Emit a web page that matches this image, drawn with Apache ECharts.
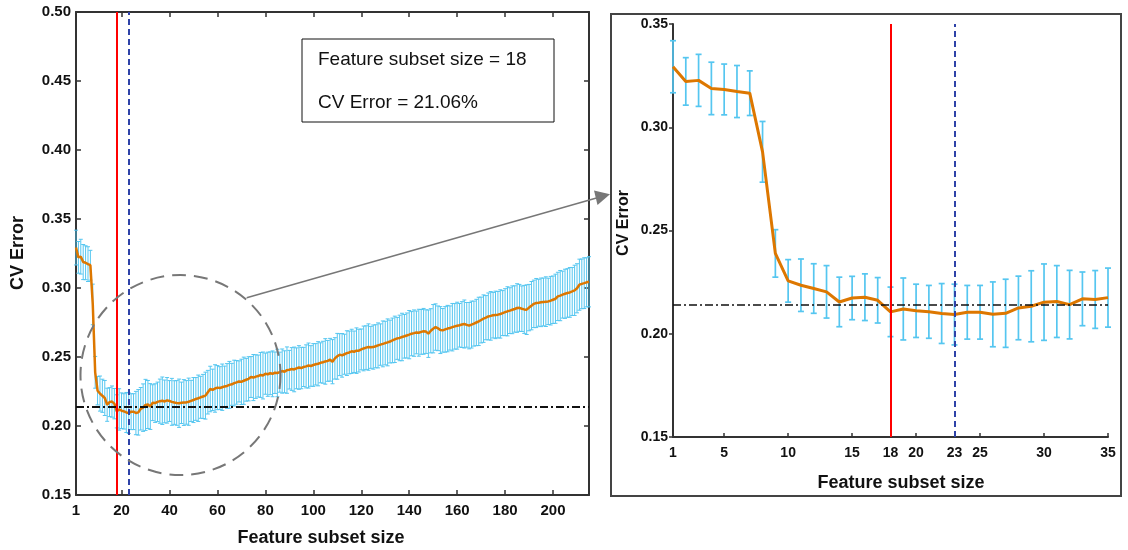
<!DOCTYPE html>
<html>
<head>
<meta charset="utf-8">
<script src="https://cdn.jsdelivr.net/npm/echarts@6/dist/echarts.min.js"></script>
<style>
html,body{margin:0;padding:0;background:#fff;}
#chart{width:1128px;height:550px;}
</style>
</head>
<body>
<div id="chart"></div>
<script>
// ---------------- DATA ----------------
const cvError = [
0.3293,0.3222,0.3227,0.3188,0.3183,0.3173,0.3165,0.2881,0.2389,0.2256,
0.2235,0.2219,0.2203,0.2154,0.2173,0.2177,0.2162,0.2106,0.2120,0.2111,
0.2106,0.2098,0.2093,0.2104,0.2104,0.2094,0.2099,0.2125,0.2133,0.2153,
0.2156,0.2141,0.2169,0.2166,0.2175,
0.2180,0.2183,0.2178,0.2186,0.2181,0.2175,0.2170,0.2167,0.2165,0.2168,
0.2170,0.2171,0.2176,0.2182,0.2188,0.2196,0.2201,0.2208,0.2214,0.2220,
0.2245,0.2268,0.2262,0.2272,0.2278,0.2275,0.2281,0.2287,0.2290,0.2298,
0.2302,0.2311,0.2316,0.2323,0.2320,0.2328,0.2335,0.2342,0.2355,0.2351,
0.2358,0.2362,0.2370,0.2366,0.2379,0.2375,0.2382,0.2378,0.2386,0.2384,
0.2390,0.2398,0.2393,0.2405,0.2408,0.2413,0.2410,0.2418,0.2424,0.2420,
0.2428,0.2432,0.2438,0.2435,0.2442,0.2447,0.2451,0.2458,0.2462,0.2468,
0.2472,0.2480,0.2466,0.2490,0.2505,0.2517,0.2512,0.2520,0.2528,0.2533,
0.2541,0.2538,0.2546,0.2546,0.2555,0.2562,0.2568,0.2572,0.2570,0.2572,
0.2578,0.2584,0.2590,0.2595,0.2601,0.2606,0.2612,0.2620,0.2628,0.2635,
0.2638,0.2645,0.2650,0.2656,0.2662,0.2669,0.2673,0.2678,0.2676,0.2682,
0.2686,0.2684,0.2669,0.2690,0.2705,0.2717,0.2708,0.2695,0.2693,0.2700,
0.2706,0.2710,0.2716,0.2722,0.2727,0.2730,0.2735,0.2739,0.2733,0.2727,
0.2735,0.2742,0.2750,0.2758,0.2768,0.2778,0.2785,0.2794,0.2798,0.2803,
0.2805,0.2807,0.2812,0.2818,0.2825,0.2831,0.2836,0.2842,0.2848,0.2855,
0.2856,0.2850,0.2845,0.2843,0.2858,0.2872,0.2885,0.2891,0.2893,0.2896,
0.2899,0.2901,0.2903,0.2908,0.2915,0.2922,0.2939,0.2945,0.2952,0.2958,
0.2964,0.2968,0.2975,0.2983,0.2998,0.3024,0.3030,0.3035,0.3041,0.3045
];
const cvStd = [
0.0126,0.0115,0.0126,0.0127,0.0123,0.0126,0.0108,0.0147,0.0115,0.0103,
0.0127,0.0120,0.0127,0.0120,0.0105,0.0113,0.0110,0.0120,0.0150,0.0129,
0.0128,0.0145,0.0147,0.0130,0.0130,0.0157,0.0165,0.0154,0.0172,0.0185,
0.0174,0.0166,0.0130,0.0140,0.0143,
0.0160,0.0172,0.0155,0.0165,0.0148,0.0170,0.0158,0.0162,0.0175,0.0150,
0.0166,0.0158,0.0171,0.0149,0.0163,0.0155,0.0168,0.0152,0.0160,0.0170,
0.0158,0.0165,0.0150,0.0172,0.0160,0.0155,0.0168,0.0147,0.0162,0.0170,
0.0152,0.0166,0.0158,0.0149,0.0164,0.0171,0.0155,0.0160,0.0148,0.0167,
0.0158,0.0152,0.0163,0.0170,0.0149,0.0160,0.0155,0.0166,0.0150,0.0172,
0.0145,0.0160,0.0152,0.0168,0.0140,0.0155,0.0162,0.0148,0.0158,0.0150,
0.0142,0.0156,0.0163,0.0147,0.0155,0.0150,0.0160,0.0145,0.0152,0.0165,
0.0148,0.0155,0.0160,0.0150,0.0166,0.0152,0.0158,0.0145,0.0162,0.0155,
0.0160,0.0150,0.0165,0.0155,0.0148,0.0162,0.0158,0.0168,0.0152,0.0160,
0.0156,0.0163,0.0150,0.0166,0.0158,0.0170,0.0155,0.0162,0.0168,0.0152,
0.0165,0.0172,0.0158,0.0163,0.0175,0.0160,0.0168,0.0155,0.0170,0.0162,
0.0166,0.0158,0.0172,0.0160,0.0175,0.0168,0.0162,0.0170,0.0158,0.0165,
0.0168,0.0160,0.0172,0.0165,0.0170,0.0158,0.0166,0.0174,0.0162,0.0168,
0.0170,0.0163,0.0168,0.0175,0.0166,0.0172,0.0160,0.0170,0.0176,0.0165,
0.0172,0.0168,0.0175,0.0163,0.0170,0.0178,0.0166,0.0173,0.0168,0.0176,
0.0170,0.0165,0.0174,0.0180,0.0168,0.0175,0.0172,0.0178,0.0170,0.0176,
0.0173,0.0180,0.0168,0.0176,0.0172,0.0178,0.0175,0.0182,0.0170,0.0178,
0.0176,0.0180,0.0174,0.0182,0.0178,0.0185,0.0180,0.0184,0.0178,0.0182
];
const xTicksFull = [1, 20, 40, 60, 80, 100, 120, 140, 160, 180, 200];
const xTicksZoom = [1, 5, 10, 15, 18, 20, 23, 25, 30, 35];
const zoomCount = 35;
const bestSize = 18;
const altSize = 23;
const thresholdError = 0.214;
const annotationLines = ['Feature subset size = 18', 'CV Error = 21.06%'];
const xName = 'Feature subset size';
const yName = 'CV Error';

// ---------------- BUILD ----------------
const FONT = '"Liberation Sans", Arial, Helvetica, sans-serif';
const ORANGE = '#DD7700';
const BAR = '#55C6F0';
const AXIS = '#333';

const fullPts = cvError.map((v, i) => [i + 1, v, cvStd[i]]);
const zoomPts = fullPts.slice(0, zoomCount);

function errRender(lw, cap) {
  return function (params, api) {
    const x = api.value(0), m = api.value(1), s = api.value(2);
    const t = api.coord([x, m + s]);
    const b = api.coord([x, m - s]);
    const st = { stroke: BAR, lineWidth: lw };
    return {
      type: 'group',
      children: [
        { type: 'line', shape: { x1: t[0], y1: t[1], x2: b[0], y2: b[1] }, style: st },
        { type: 'line', shape: { x1: t[0] - cap, y1: t[1], x2: t[0] + cap, y2: t[1] }, style: st },
        { type: 'line', shape: { x1: b[0] - cap, y1: b[1], x2: b[0] + cap, y2: b[1] }, style: st }
      ]
    };
  };
}

function markLines(dashW) {
  return {
    symbol: 'none', silent: true, label: { show: false }, animation: false, precision: 6,
    data: [
      { xAxis: bestSize, lineStyle: { color: '#FF0000', width: 2, type: 'solid' } },
      { xAxis: altSize, lineStyle: { color: '#2E42A8', width: 2, type: [6, 4] } },
      { yAxis: thresholdError, lineStyle: { color: '#111', width: dashW, type: [8, 3, 2, 3] } }
    ]
  };
}

const labelStyle = (size) => ({ fontFamily: FONT, fontWeight: 'bold', fontSize: size, color: '#111' });

const option = {
  animation: false,
  backgroundColor: '#fff',
  grid: [
    { left: 76, top: 12, width: 513, height: 483 },
    { left: 673, top: 24, width: 435, height: 413 }
  ],
  xAxis: [
    { gridIndex: 0, type: 'value', min: 1, max: 215, position: 'bottom',
      axisLine: { show: true, lineStyle: { color: AXIS, width: 2 } },
      axisTick: { show: true, inside: true, length: 5, customValues: xTicksFull, lineStyle: { color: AXIS, width: 1.5 } },
      axisLabel: { show: true, customValues: xTicksFull, margin: 8, ...labelStyle(15) },
      splitLine: { show: false } },
    { gridIndex: 0, type: 'value', min: 1, max: 215, position: 'top',
      axisLine: { show: true, lineStyle: { color: AXIS, width: 2 } },
      axisTick: { show: true, inside: true, length: 5, customValues: xTicksFull, lineStyle: { color: AXIS, width: 1.5 } },
      axisLabel: { show: false }, splitLine: { show: false } },
    { gridIndex: 1, type: 'value', min: 1, max: 35, position: 'bottom',
      axisLine: { show: true, lineStyle: { color: AXIS, width: 2 } },
      axisTick: { show: true, inside: true, length: 4, customValues: xTicksZoom, lineStyle: { color: AXIS, width: 1.5 } },
      axisLabel: { show: true, customValues: xTicksZoom, margin: 9, ...labelStyle(14) },
      splitLine: { show: false } }
  ],
  yAxis: [
    { gridIndex: 0, type: 'value', min: 0.15, max: 0.5, interval: 0.05, position: 'left',
      axisLine: { show: true, lineStyle: { color: AXIS, width: 2 } },
      axisTick: { show: true, inside: true, length: 5, lineStyle: { color: AXIS, width: 1.5 } },
      axisLabel: { show: true, margin: 5, formatter: v => v.toFixed(2), ...labelStyle(15) },
      splitLine: { show: false } },
    { gridIndex: 0, type: 'value', min: 0.15, max: 0.5, interval: 0.05, position: 'right',
      axisLine: { show: true, lineStyle: { color: AXIS, width: 2 } },
      axisTick: { show: true, inside: true, length: 5, lineStyle: { color: AXIS, width: 1.5 } },
      axisLabel: { show: false }, splitLine: { show: false } },
    { gridIndex: 1, type: 'value', min: 0.15, max: 0.35, interval: 0.05, position: 'left',
      axisLine: { show: true, lineStyle: { color: AXIS, width: 2 } },
      axisTick: { show: true, inside: false, length: 4, lineStyle: { color: AXIS, width: 1.5 } },
      axisLabel: { show: true, margin: 5, formatter: v => v.toFixed(2), ...labelStyle(14) },
      splitLine: { show: false } }
  ],
  series: [
    { type: 'custom', xAxisIndex: 0, yAxisIndex: 0, data: fullPts, encode: { x: 0, y: 1 },
      renderItem: errRender(1, 2), z: 2, silent: true },
    { type: 'line', xAxisIndex: 0, yAxisIndex: 0, data: fullPts.map(p => [p[0], p[1]]),
      showSymbol: false, symbol: 'none', lineStyle: { color: ORANGE, width: 2.5 }, z: 3, silent: true },
    { type: 'line', xAxisIndex: 0, yAxisIndex: 0, data: [], z: 4, markLine: markLines(2) },
    { type: 'custom', xAxisIndex: 2, yAxisIndex: 2, data: zoomPts, encode: { x: 0, y: 1 },
      renderItem: errRender(1.7, 3), z: 2, silent: true },
    { type: 'line', xAxisIndex: 2, yAxisIndex: 2, data: zoomPts.map(p => [p[0], p[1]]),
      showSymbol: false, symbol: 'none', lineStyle: { color: ORANGE, width: 3 }, z: 3, silent: true },
    { type: 'line', xAxisIndex: 2, yAxisIndex: 2, data: [], z: 4, markLine: markLines(1.6) }
  ],
  graphic: [
    // dashed zoom circle
    { type: 'circle', shape: { cx: 180.5, cy: 375, r: 100 }, z: 50,
      style: { fill: 'none', stroke: '#777', lineWidth: 2, lineDash: [14, 8] } },
    // connector arrow
    { type: 'line', shape: { x1: 246.7, y1: 297.7, x2: 600, y2: 197 }, z: 50,
      style: { stroke: '#777', lineWidth: 1.5 } },
    { type: 'polygon', shape: { points: [[610, 194.3], [594, 190.5], [597.5, 205]] }, z: 50,
      style: { fill: '#777' } },
    // annotation box
    { type: 'rect', shape: { x: 302, y: 39, width: 252, height: 83 }, z: 50,
      style: { fill: '#fff', stroke: '#111', lineWidth: 1 } },
    { type: 'text', x: 318, y: 60, z: 51,
      style: { text: annotationLines[0], fontFamily: FONT, fontSize: 19, fill: '#111', verticalAlign: 'middle' } },
    { type: 'text', x: 318, y: 103, z: 51,
      style: { text: annotationLines[1], fontFamily: FONT, fontSize: 19, fill: '#111', verticalAlign: 'middle' } },
    // right panel frame
    { type: 'rect', shape: { x: 611, y: 14, width: 510, height: 482 }, z: 40,
      style: { fill: 'none', stroke: '#444', lineWidth: 2 } },
    // axis names
    { type: 'text', x: 18, y: 253, rotation: Math.PI / 2, z: 51,
      style: { text: yName, fontFamily: FONT, fontWeight: 'bold', fontSize: 18, fill: '#111', align: 'center', verticalAlign: 'middle' } },
    { type: 'text', x: 321, y: 538, z: 51,
      style: { text: xName, fontFamily: FONT, fontWeight: 'bold', fontSize: 18, fill: '#111', align: 'center', verticalAlign: 'middle' } },
    { type: 'text', x: 624, y: 223, rotation: Math.PI / 2, z: 51,
      style: { text: yName, fontFamily: FONT, fontWeight: 'bold', fontSize: 16, fill: '#111', align: 'center', verticalAlign: 'middle' } },
    { type: 'text', x: 901, y: 483, z: 51,
      style: { text: xName, fontFamily: FONT, fontWeight: 'bold', fontSize: 18, fill: '#111', align: 'center', verticalAlign: 'middle' } }
  ]
};

const chart = echarts.init(document.getElementById('chart'), null, { renderer: 'canvas' });
chart.setOption(option);
</script>
</body>
</html>
